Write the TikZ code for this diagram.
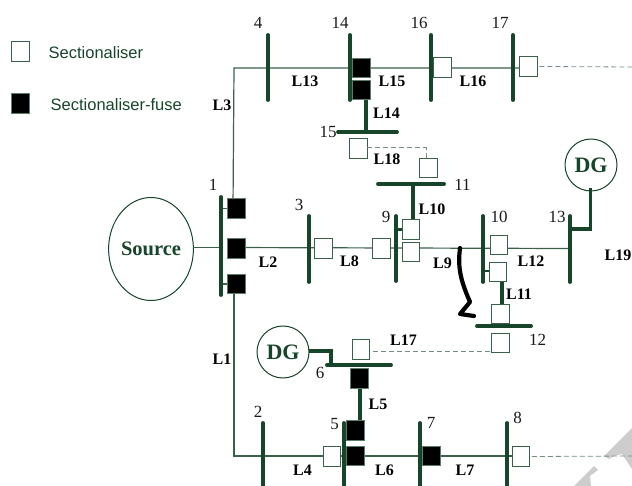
\documentclass[tikz,border=0pt]{standalone}
\usetikzlibrary{shapes.geometric}
\usepackage{fontspec}
\setmainfont{Liberation Serif}
\newfontfamily\legendfont{Liberation Sans}
\definecolor{gr}{HTML}{16452A}
\definecolor{mk}{HTML}{CDCDCD}
\tikzset{
 x=1pt,y=-1pt,
 busbar/.style={draw=gr,line width=3.9pt,line cap=round},
 feeder/.style={draw=gr!85!white,line width=1.2pt},
 stub/.style={draw=gr,line width=3.6pt},
 nub/.style={draw=gr,line width=2pt},
 tie/.style={draw=gr!60!white,line width=.8pt,dash pattern=on 5pt off 3pt},
 sw/.style={draw=gr!85!white,line width=1pt,fill=white,minimum width=17.5pt,minimum height=19.5pt,inner sep=0pt,outer sep=0pt},
 fs/.style={draw=gr!70!white,line width=.6pt,fill=black,minimum width=18pt,minimum height=19.5pt,inner sep=0pt,outer sep=0pt},
 num/.style={font=\fontsize{17}{18}\selectfont,text=black!90,inner sep=0pt},
 lab/.style={font=\fontsize{16}{17}\selectfont\bfseries,text=black,inner sep=0pt},
 leg/.style={font=\legendfont\fontsize{16.5}{17}\selectfont,text=gr,inner sep=0pt,anchor=west},
 dgen/.style={draw=gr,line width=1pt,circle,minimum size=52pt,inner sep=0pt,fill=white,font=\fontsize{22}{23}\selectfont\bfseries,text=gr},
}
\begin{document}
\begin{tikzpicture}
\useasboundingbox (0,0) rectangle (632,486);
% watermark
\fill[mk] (632,428) -- (604,456) -- (609,459) -- (614,456) -- (622,454) -- (632,469) -- cycle;
\fill[mk] (594,466) -- (598,470) -- (590,476) -- (591,486) -- (574,486) -- cycle;
% coordinates of the feeders
\coordinate (c1t) at (233,208);
\coordinate (c4) at (234,68);
\coordinate (c17) at (520,68);
\coordinate (c1b) at (234,294);
\coordinate (c2) at (234,456);
\coordinate (c8) at (512,456);
\coordinate (e17) at (632,67);
\coordinate (e8) at (632,456);
\coordinate (src1) at (193,247.5);
% source and DG
\node[draw=gr,line width=1pt,ellipse,minimum width=84pt,minimum height=103pt,inner sep=0pt,font=\fontsize{20.5}{21}\selectfont\bfseries,text=gr] (src) at (151,249) {Source};
\node[dgen] (dg1) at (591,165) {DG};
\node[dgen] (dg2) at (283,352) {DG};
% feeders
\draw[feeder] (c1t) -- (c4) -- (c17);
\draw[feeder] (c1b) -- (c2) -- (c8);
\draw[feeder] (src1) -- (221,247.5);
\draw[feeder] (227,247.5) -- (570,248.5);
\draw[feeder] (221,208.5) -- (228,208.5);
\draw[feeder] (221,284) -- (228,284);
% buses
\foreach \n/\x/\a/\b in {b1/221/197/295,b4/268/35/100,b14/350/35/100,b16/431/35/100,b17/513/35/100,b3/309/216/282,b9/396/216/281,b10/483/216/282,b13/570/216/282,b2/263/423/490,b5/344/423/490,b7/420/423/490,b8/507/423/490}
  \draw[busbar] (\x,\a) coordinate (\n t) -- (\x,\b) coordinate (\n e);
\foreach \n/\a/\b/\y in {b15/338/397/132,b11/378/444/184,b12/477/531/326,b6/327/391/365}
  \draw[busbar] (\a,\y) coordinate (\n t) -- (\b,\y) coordinate (\n e);
% thick stubs
\draw[stub] (366,100) -- (366,132);
\draw[stub] (413,184) -- (413,220);
\draw[stub] (502,282) -- (502,304);
\draw[stub] (360,388) -- (360,421);
\draw[stub] (590.5,188) -- (590.5,229) -- (570,229);
\draw[stub] (309,351) -- (331,351) -- (331,365);
\draw[stub] (396,229.5) -- (403,229.5);
\draw[nub] (484,271) -- (490,271);
% switches
\node[fs] (f1) at (236.5,208.5) {};
\node[fs] (f2) at (236.5,248.5) {};
\node[fs] (f3) at (236.5,284) {};
\node[fs] (f14a) at (361.5,68) {};
\node[fs] (f14b) at (361.5,90) {};
\node[fs] (f6) at (359,378.5) {};
\node[fs] (f5a) at (355.5,430.5) {};
\node[fs] (f5b) at (355.5,456) {};
\node[fs] (f7) at (431,456) {};
\node[sw] (s16) at (442.5,67.5) {};
\node[sw] (s17) at (528.5,66.5) {};
\node[sw] (s15) at (358.5,148.5) {};
\node[sw] (s11) at (428.5,168) {};
\node[sw] (s3) at (323.5,248.5) {};
\node[sw] (s8) at (381.5,248.5) {};
\node[sw] (s9a) at (411,229.5) {};
\node[sw] (s9b) at (411,252) {};
\node[sw] (s10a) at (499,245) {};
\node[sw] (s10b) at (498,272) {};
\node[sw] (s12a) at (500.5,314) {};
\node[sw] (s12b) at (500.5,343) {};
\node[sw] (s6) at (361,349.5) {};
\node[sw] (s4) at (332,456.5) {};
\node[sw] (s8b) at (521,456.5) {};
% tie lines
\draw[tie] (s17.east) ++(2,0) -- (e17);
\draw[tie] (s8b.east) ++(2,0) -- (e8);
\coordinate (t6) at (373,351);
\coordinate (t12) at (491.5,351);
\draw[tie] (t6) -- (t12);
\draw[tie] (s15.east) ++(0,-1) -- (426,147.5) -- (426,158);
% legend
\node[sw,minimum width=18pt,minimum height=20pt] (k1) at (20.5,51.5) {};
\node[fs,minimum width=18pt,minimum height=20pt] (k2) at (20.5,103.5) {};
\node[leg] at (48.5,53) {Sectionaliser};
\node[leg] at (50.5,105) {Sectionaliser-fuse};
% bus numbers
\foreach \t/\x/\y in {4/258/23,14/340/23,16/419/23,17/500/23,15/328/132,11/462.5/185,9/386/217,10/499/217,13/557/217,1/213/185,3/299/205,12/537.5/340,6/320/373,5/334.5/424,2/258/412,7/431/423,8/517.5/418}
  \node[num] at (\x,\y) {\t};
% line labels
\foreach \t/\x/\y in {L13/305/81,L3/222/105,L15/392/81,L16/473/81,L14/386.5/113,L18/387/159,L10/432/209,L2/268/262,L8/349.5/261,L9/442.5/263,L12/531/261,L19/618/255,L11/519/294,L17/403.5/340,L1/222/359,L5/378/404,L4/302.5/470,L6/384.5/470,L7/465/470}
  \node[lab] at (\x,\y) {\t};
% hand-drawn arrow
\draw[black,line width=4.2pt,line cap=round,line join=round] (460,248) .. controls (458,265) and (459,277) .. (470,302) -- (460,314) -- (474,316);
\end{tikzpicture}
\end{document}
